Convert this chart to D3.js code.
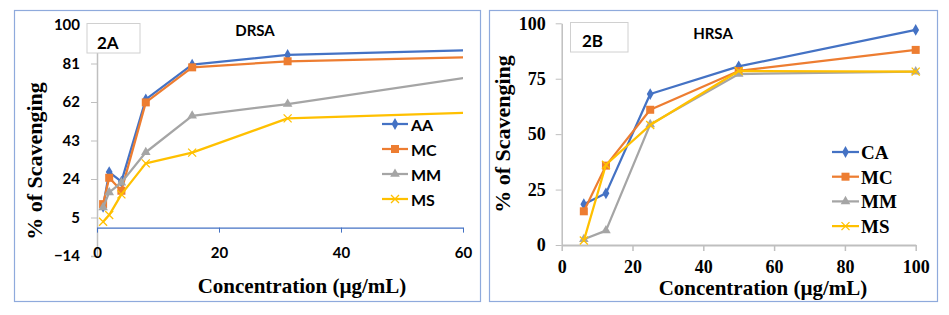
<!DOCTYPE html>
<html><head><meta charset="utf-8">
<script src="https://cdn.jsdelivr.net/npm/d3@7"></script>
<style>html,body{margin:0;padding:0;background:#fff;}</style>
</head><body>
<script>
// ---- Data ----
const concA = [1, 2, 4, 8, 15.6, 31.25, 62.5];
const AA = [10.3, 27.4, 22.7, 63.3, 80.4, 85.2, 87.7];
const MC_A = [11.6, 24.6, 18.2, 61.8, 79.1, 82.1, 84.2];
const MM_A = [10.0, 17.4, 22.2, 37.2, 55.2, 61.0, 74.9];
const MS_A = [2.9, 6.2, 16.4, 31.7, 37.0, 53.9, 56.9];
const seriesNamesA = ["AA", "MC", "MM", "MS"];
const yTicksA = [-14, 5, 24, 43, 62, 81, 100];
const xTicksA = [0, 20, 40, 60];

const concB = [6.25, 12.5, 25, 50, 100];
const CA = [18.4, 23.3, 68.1, 80.6, 97.0];
const MC_B = [15.2, 35.8, 61.0, 78.5, 88.0];
const MM_B = [2.6, 6.5, 54.4, 77.1, 78.2];
const MS_B = [2.0, 36.2, 54.1, 78.5, 78.2];
const seriesNamesB = ["CA", "MC", "MM", "MS"];
const yTicksB = [0, 25, 50, 75, 100];
const xTicksB = [0, 20, 40, 60, 80, 100];

const colors = ["#4472C4", "#ED7D31", "#A5A5A5", "#FFC000"];
const markers = ["diamond", "square", "triangle", "x"];

const svg = d3.select("body").append("svg").attr("width", 949).attr("height", 315)
  .style("display", "block");
svg.append("rect").attr("width", 949).attr("height", 315).attr("fill", "#fff");

function drawMarker(g, type, x, y, color) {
  if (type === "diamond") {
    g.append("path").attr("d", d3.symbol(d3.symbolDiamond, 40)()).attr("transform", `translate(${x},${y})`).attr("fill", color);
  } else if (type === "square") {
    g.append("rect").attr("x", x - 4).attr("y", y - 4).attr("width", 8).attr("height", 8).attr("fill", color);
  } else if (type === "triangle") {
    g.append("path").attr("d", d3.symbol(d3.symbolTriangle, 40)()).attr("transform", `translate(${x},${y})`).attr("fill", color);
  } else {
    g.append("path").attr("d", `M${x-4},${y-4}L${x+4},${y+4}M${x-4},${y+4}L${x+4},${y-4}`).attr("stroke", color).attr("stroke-width", 1.3).attr("fill", "none");
  }
}

const sans = "Lato";
const serif = "Liberation Serif";
function font(sel, fam, size) {
  return sel.style("font-family", fam).style("font-size", size + "px").style("font-weight", "bold").style("fill", "#000");
}

// ---- Panel borders ----
svg.append("rect").attr("x", 14.5).attr("y", 10.5).attr("width", 466).attr("height", 291).attr("fill", "none").attr("stroke", "#8FAADC").attr("stroke-width", 1.2);
svg.append("rect").attr("x", 489.5).attr("y", 10.5).attr("width", 448).attr("height", 291).attr("fill", "none").attr("stroke", "#8FAADC").attr("stroke-width", 1.2);

// ================= Panel A =================
{
  const x = d3.scaleLinear().domain([0, 60]).range([97, 463]);
  const y = d3.scaleLinear().domain([-14, 100]).range([256, 25]);
  const g = svg.append("g");
  const ya = g.append("g").attr("transform", `translate(${x(0)},0)`)
    .call(d3.axisLeft(y).tickValues(yTicksA).tickSize(6).tickPadding(11));
  ya.attr("font-family", null).attr("font-size", null);
  ya.select(".domain").attr("stroke", "#BFBFBF").attr("stroke-width", 1.5);
  ya.selectAll(".tick line").attr("stroke", "#BFBFBF");
  font(ya.selectAll(".tick text"), sans, 15);
  const xa = g.append("g").attr("transform", `translate(0,${y(0)})`)
    .call(d3.axisBottom(x).tickValues(xTicksA).tickSize(5).tickSizeOuter(0));
  xa.attr("font-family", null).attr("font-size", null);
  xa.select(".domain").attr("stroke", "#4472C4").attr("stroke-width", 1.3);
  xa.selectAll(".tick line").attr("stroke", "#4472C4");
  font(xa.selectAll(".tick text"), sans, 15)
    .attr("y", 0).attr("dy", 0).attr("transform", `translate(0,${258 - y(0)})`);

  svg.append("clipPath").attr("id", "clipA").append("rect").attr("x", 90).attr("y", 10).attr("width", x(60) - 90).attr("height", 260);
  const data = [AA, MC_A, MM_A, MS_A];
  const line = d3.line().x((d, i) => x(concA[i])).y(d => y(d));
  const sg = g.append("g").attr("clip-path", "url(#clipA)");
  data.forEach((vals, k) => {
    sg.append("path").datum(vals).attr("d", line).attr("fill", "none").attr("stroke", colors[k]).attr("stroke-width", 2.25).attr("stroke-linejoin", "round");
    vals.forEach((v, i) => { if (concA[i] <= 60) drawMarker(sg, markers[k], x(concA[i]), y(v), colors[k]); });
  });

  g.append("rect").attr("x", 87).attr("y", 23.5).attr("width", 53).attr("height", 29.5).attr("fill", "#fff").attr("stroke", "#D0D0D0").attr("stroke-width", 1);
  font(g.append("text").attr("x", 97).attr("y", 49).text("2A"), sans, 17);
  font(g.append("text").attr("x", 255).attr("y", 36).attr("text-anchor", "middle").text("DRSA"), sans, 15);

  seriesNamesA.forEach((n, k) => {
    const cy = 124 + k * 25;
    g.append("line").attr("x1", 382).attr("x2", 408).attr("y1", cy).attr("y2", cy).attr("stroke", colors[k]).attr("stroke-width", 2.25);
    drawMarker(g, markers[k], 395, cy, colors[k]);
    font(g.append("text").attr("x", 411).attr("y", cy + 6.5).text(n), sans, 16);
  });

  font(g.append("text").attr("transform", "translate(42,161) rotate(-90)").attr("text-anchor", "middle")
    .text("% of Scavenging"), serif, 22);
  font(g.append("text").attr("x", 302).attr("y", 293).attr("text-anchor", "middle")
    .text("Concentration (µg/mL)"), serif, 21);
}

// ================= Panel B =================
{
  const x = d3.scaleLinear().domain([0, 100]).range([561.7, 915.7]);
  const y = d3.scaleLinear().domain([0, 100]).range([245, 23.3]);
  const g = svg.append("g");
  const ya = g.append("g").attr("transform", `translate(${x(0)},0)`)
    .call(d3.axisLeft(y).tickValues(yTicksB).tickSize(6).tickSizeOuter(0).tickPadding(10));
  ya.attr("font-family", null).attr("font-size", null);
  ya.select(".domain").attr("stroke", "#BFBFBF").attr("stroke-width", 1.5);
  ya.selectAll(".tick line").attr("stroke", "#BFBFBF");
  font(ya.selectAll(".tick text"), serif, 18);
  const xa = g.append("g").attr("transform", `translate(0,${y(0)})`)
    .call(d3.axisBottom(x).tickValues(xTicksB).tickSize(6).tickSizeOuter(0));
  xa.attr("font-family", null).attr("font-size", null);
  xa.select(".domain").attr("stroke", "#BFBFBF").attr("stroke-width", 2);
  xa.selectAll(".tick line").attr("stroke", "#BFBFBF").attr("stroke-width", 1.5);
  font(xa.selectAll(".tick text"), serif, 18)
    .attr("y", 0).attr("dy", 0).attr("transform", `translate(0,${273 - y(0)})`);

  const data = [CA, MC_B, MM_B, MS_B];
  const line = d3.line().x((d, i) => x(concB[i])).y(d => y(d));
  data.forEach((vals, k) => {
    g.append("path").datum(vals).attr("d", line).attr("fill", "none").attr("stroke", colors[k]).attr("stroke-width", 2.25).attr("stroke-linejoin", "round");
    vals.forEach((v, i) => drawMarker(g, markers[k], x(concB[i]), y(v), colors[k]));
  });

  g.append("rect").attr("x", 570.5).attr("y", 22.5).attr("width", 57.5).attr("height", 29.5).attr("fill", "#fff").attr("stroke", "#D0D0D0").attr("stroke-width", 1);
  font(g.append("text").attr("x", 582).attr("y", 47).text("2B"), sans, 17);
  font(g.append("text").attr("x", 713).attr("y", 39).attr("text-anchor", "middle").text("HRSA"), sans, 15);

  seriesNamesB.forEach((n, k) => {
    const cy = 152 + k * 24.7;
    g.append("line").attr("x1", 832).attr("x2", 859).attr("y1", cy).attr("y2", cy).attr("stroke", colors[k]).attr("stroke-width", 2.25);
    drawMarker(g, markers[k], 845.5, cy, colors[k]);
    font(g.append("text").attr("x", 861).attr("y", cy + 7).text(n), serif, 19);
  });

  font(g.append("text").attr("transform", "translate(510,134) rotate(-90)").attr("text-anchor", "middle")
    .text("% of Scavenging"), serif, 22);
  font(g.append("text").attr("x", 763).attr("y", 295).attr("text-anchor", "middle")
    .text("Concentration (µg/mL)"), serif, 21);
}
</script>
</body></html>
